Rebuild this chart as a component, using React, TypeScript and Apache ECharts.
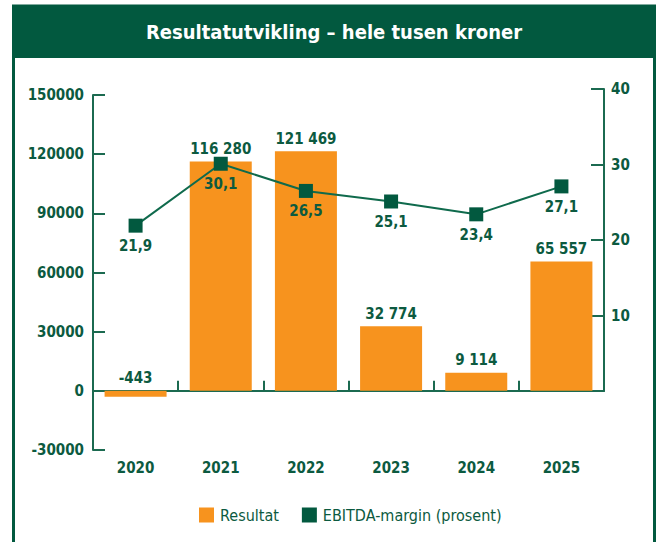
import React, { useEffect, useRef } from "react";
import * as echarts from "echarts";

const years = ["2020", "2021", "2022", "2023", "2024", "2025"];
const resultat = [-443, 116280, 121469, 32774, 9114, 65557];
const ebitdaMargin = [21.9, 30.1, 26.5, 25.1, 23.4, 27.1];
const leftTicks = { min: -30000, max: 150000, interval: 30000 };
const rightTicks = { min: 0, max: 40, interval: 10 };

const GREEN = "#02593f";
const AXIS = "#1b6a50";
const TEXT = "#0c5a40";
const ORANGE = "#f7931e";
const FONT = "'DejaVu Sans Condensed', 'DejaVu Sans', sans-serif";

const fmtThousands = (v: number) =>
  String(v).replace(/\B(?=(\d{3})+(?!\d))/g, " ");

export default function App() {
  const ref = useRef<HTMLDivElement>(null);
  useEffect(() => {
    document.body.style.margin = "0";
    if (!ref.current) return;
    const chart = echarts.init(ref.current, undefined, { renderer: "svg" });
    const labelStyle = { fontFamily: FONT, fontSize: 15, fontWeight: "bold" as const, color: TEXT };
    chart.setOption({
      animation: false,
      backgroundColor: "#ffffff",
      textStyle: { fontFamily: FONT },
      graphic: [
        {
          type: "rect",
          shape: { x: 13.5, y: 6, width: 641, height: 560 },
          style: { fill: "none", stroke: GREEN, lineWidth: 3 },
          z: 0,
        },
        {
          type: "rect",
          shape: { x: 12, y: 6, width: 644, height: 52, r: [3, 3, 0, 0] },
          style: { fill: GREEN },
          z: 1,
        },
        {
          type: "text",
          x: 334,
          y: 32,
          style: {
            text: "Resultatutvikling – hele tusen kroner",
            fill: "#ffffff",
            font: `bold 20px ${FONT}`,
            align: "center",
            verticalAlign: "middle",
          },
          z: 2,
        },
      ],
      legend: {
        left: 199,
        top: 507,
        padding: 0,
        itemWidth: 15,
        itemHeight: 15,
        itemGap: 23,
        icon: "rect",
        textStyle: { fontFamily: FONT, fontSize: 16, color: TEXT, padding: [0, 0, 0, 1] },
        data: [
          { name: "Resultat", icon: "rect", itemStyle: { color: ORANGE } },
          { name: "EBITDA-margin (prosent)", icon: "rect", itemStyle: { color: GREEN } },
        ],
      },
      grid: [
        { left: 93, right: 56, top: 95, bottom: 92, containLabel: false },
        { left: 93, right: 56, top: 89, bottom: 151, containLabel: false },
      ],
      xAxis: [
        {
          type: "category",
          gridIndex: 0,
          data: years,
          position: "bottom",
          axisLine: { show: false, onZero: false },
          axisTick: { show: false },
          axisLabel: { ...labelStyle, margin: 10 },
          splitLine: { show: false },
        },
        {
          type: "category",
          gridIndex: 0,
          data: years,
          position: "bottom",
          axisLine: { show: true, onZero: true, lineStyle: { color: AXIS, width: 2 } },
          axisTick: { show: true, inside: true, length: 10, lineStyle: { color: AXIS, width: 2 } },
          axisLabel: { show: false },
          splitLine: { show: false },
        },
        {
          type: "category",
          gridIndex: 1,
          data: years,
          show: false,
        },
      ],
      yAxis: [
        {
          type: "value",
          gridIndex: 0,
          min: leftTicks.min,
          max: leftTicks.max,
          interval: leftTicks.interval,
          axisLine: { show: true, lineStyle: { color: AXIS, width: 2 } },
          axisTick: { show: true, inside: true, length: 12, lineStyle: { color: AXIS, width: 2 } },
          axisLabel: { ...labelStyle, margin: 9, formatter: (v: number) => String(v) },
          splitLine: { show: false },
        },
        {
          type: "value",
          gridIndex: 1,
          position: "right",
          min: rightTicks.min,
          max: rightTicks.max,
          interval: rightTicks.interval,
          axisLine: { show: true, lineStyle: { color: AXIS, width: 2 } },
          axisTick: { show: true, inside: true, length: 13, lineStyle: { color: AXIS, width: 2 } },
          axisLabel: {
            ...labelStyle,
            margin: 7,
            formatter: (v: number) => (v === 0 ? "" : String(v)),
          },
          splitLine: { show: false },
        },
      ],
      series: [
        {
          name: "Resultat",
          type: "bar",
          xAxisIndex: 0,
          yAxisIndex: 0,
          data: resultat,
          barWidth: 62,
          barMinHeight: 6,
          itemStyle: { color: ORANGE },
          label: {
            show: true,
            position: "top",
            distance: 5,
            ...labelStyle,
            formatter: (p: any) => fmtThousands(p.value),
          },
          z: 2,
        },
        {
          name: "EBITDA-margin (prosent)",
          type: "line",
          xAxisIndex: 2,
          yAxisIndex: 1,
          data: ebitdaMargin,
          symbol: "rect",
          symbolSize: 14,
          itemStyle: { color: GREEN },
          lineStyle: { color: "#0f6a4c", width: 2 },
          label: {
            show: true,
            position: "bottom",
            distance: 6,
            ...labelStyle,
            formatter: (p: any) => String(p.value).replace(".", ","),
          },
          z: 3,
        },
      ],
    });
    return () => chart.dispose();
  }, []);
  return <div ref={ref} style={{ width: 660, height: 542 }} />;
}
